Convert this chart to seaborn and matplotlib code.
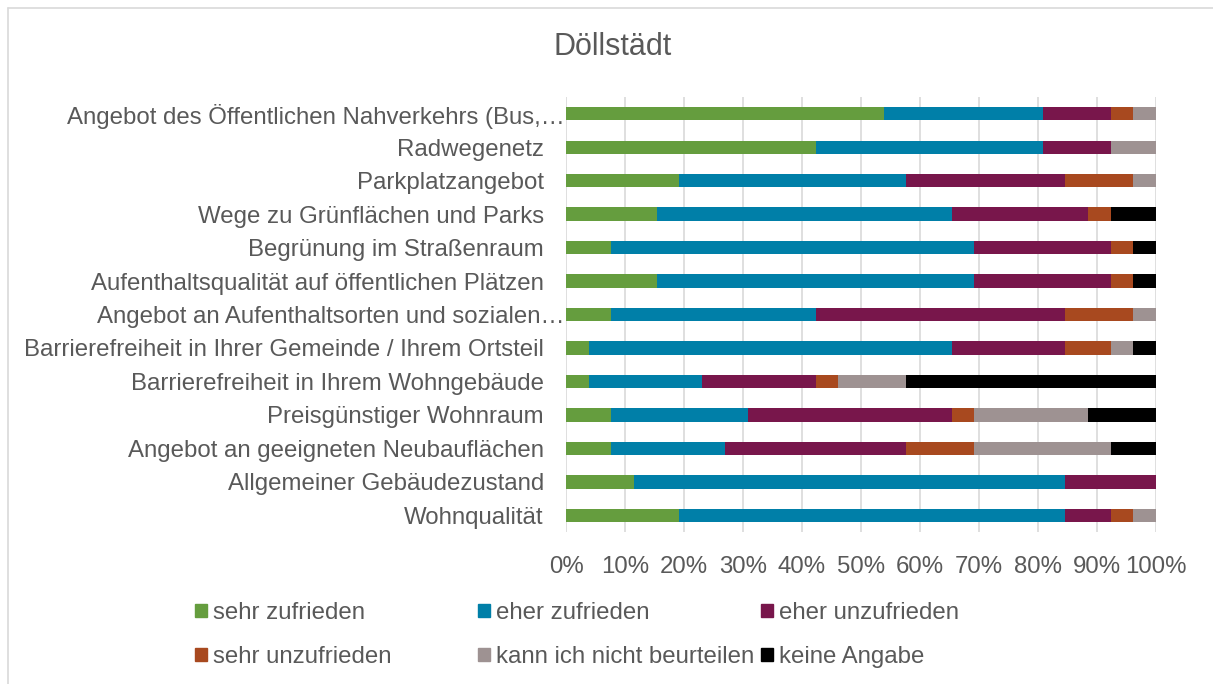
import matplotlib
matplotlib.use('Agg')
import matplotlib.pyplot as plt
import matplotlib.transforms as mtransforms
import seaborn as sns
import numpy as np
from matplotlib.patches import Patch
from matplotlib.lines import Line2D

questions = ['Angebot des Öffentlichen Nahverkehrs (Bus,…',
             'Radwegenetz',
             'Parkplatzangebot',
             'Wege zu Grünflächen und Parks',
             'Begrünung im Straßenraum',
             'Aufenthaltsqualität auf öffentlichen Plätzen',
             'Angebot an Aufenthaltsorten und sozialen…',
             'Barrierefreiheit in Ihrer Gemeinde / Ihrem Ortsteil',
             'Barrierefreiheit in Ihrem Wohngebäude',
             'Preisgünstiger Wohnraum',
             'Angebot an geeigneten Neubauflächen',
             'Allgemeiner Gebäudezustand',
             'Wohnqualität']

# number of answers per rating (26 respondents)
sehr_zufrieden   = [14, 11, 5, 4, 2, 4, 2, 1, 1, 2, 2, 3, 5]
eher_zufrieden   = [7, 10, 10, 13, 16, 14, 9, 16, 5, 6, 5, 19, 17]
eher_unzufrieden = [3, 3, 7, 6, 6, 6, 11, 5, 5, 9, 8, 4, 2]
sehr_unzufrieden = [1, 0, 3, 1, 1, 1, 3, 2, 1, 1, 3, 0, 1]
nicht_beurteilen = [1, 2, 1, 0, 0, 0, 1, 1, 3, 5, 6, 0, 1]
keine_angabe     = [0, 0, 0, 2, 1, 1, 0, 1, 11, 3, 2, 0, 0]

ratings = ['sehr zufrieden', 'eher zufrieden', 'eher unzufrieden',
           'sehr unzufrieden', 'kann ich nicht beurteilen', 'keine Angabe']
colors = ['#659D3E', '#007FA8', '#78164B', '#A8491F', '#9E9292', '#000000']

counts = np.array([sehr_zufrieden, eher_zufrieden, eher_unzufrieden,
                   sehr_unzufrieden, nicht_beurteilen, keine_angabe], dtype=float)
pct = counts / counts.sum(axis=0) * 100
cum = pct.cumsum(axis=0)

sns.set_theme(style='white')
plt.rcParams['font.family'] = ['Liberation Sans', 'DejaVu Sans']
txt = '#595959'
fs = 17.3

fig = plt.figure(figsize=(12.13, 6.84), dpi=100)
ax = fig.add_axes([566/1213, 1-532/684, 590/1213, 435/684])

for k in reversed(range(len(ratings))):
    sns.barplot(x=cum[k], y=questions, color=colors[k], orient='h', width=0.4,
                saturation=1, ax=ax, linewidth=0)

ax.set_xlim(0, 100)
ax.set_ylim(12.5, -0.5)
ax.set_xticks(range(0, 101, 10))
ax.set_xticklabels([f'{v}%' for v in range(0, 101, 10)])
ax.xaxis.grid(True, color='#D9D9D9', lw=1.2)
ax.set_axisbelow(True)
ax.set(xlabel='', ylabel='')
for s in ax.spines.values():
    s.set_visible(False)
ax.tick_params(axis='y', length=0, pad=16, labelsize=fs, labelcolor=txt)
ax.tick_params(axis='x', length=0, pad=17.5, labelsize=fs, labelcolor=txt)

# truncated labels run up to the axis in the original
shift = mtransforms.ScaledTranslation(21/100, 0, fig.dpi_scale_trans)
for lab in ax.get_yticklabels():
    if lab.get_text().endswith('…'):
        lab.set_transform(lab.get_transform() + shift)

fig.text(0.505, 1-47/684, 'Döllstädt', ha='center', va='center', fontsize=22, color=txt)

# legend: three columns placed like the Excel layout
cols_x = [195/1213, 478/1213, 761/1213]
for j, xpos in enumerate(cols_x):
    idx = [j, j + 3]
    handles = [Patch(color=colors[i]) for i in idx]
    fig.legend(handles, [ratings[i] for i in idx], loc='center left',
               bbox_to_anchor=(xpos, 1-635/684), frameon=False, fontsize=fs,
               handlelength=0.5, handleheight=0.5, handletextpad=0.25,
               labelspacing=0.91, borderpad=0, borderaxespad=0, labelcolor=txt)

# chart area border
fig.add_artist(Line2D([8/1213, 1], [1-8/684, 1-8/684], color='#D9D9D9', lw=1.2))
fig.add_artist(Line2D([8/1213, 8/1213], [0, 1-8/684], color='#D9D9D9', lw=1.2))

fig.savefig('out.png', dpi=100, facecolor='white')
